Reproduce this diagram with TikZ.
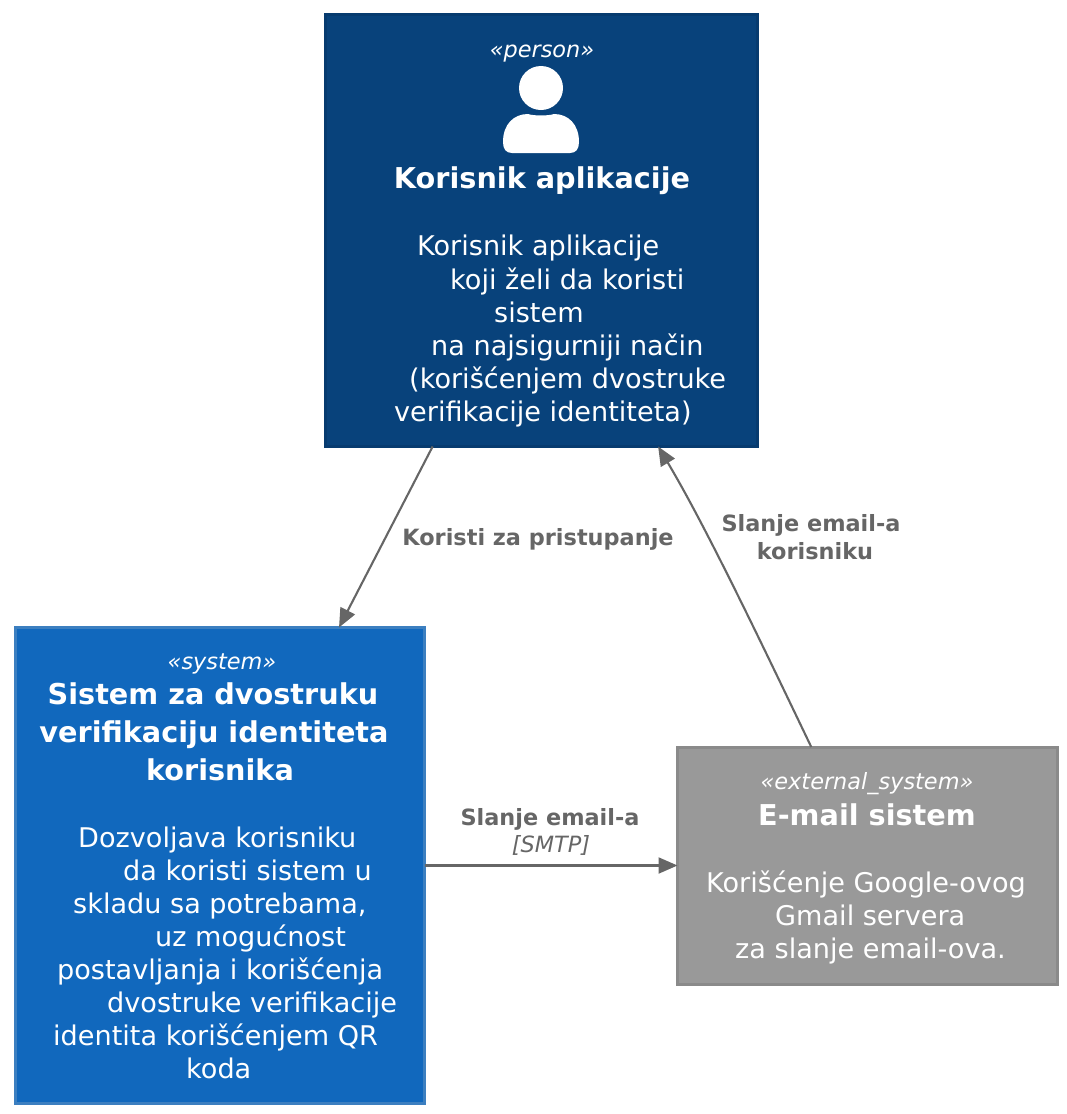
\documentclass[tikz,border=0pt]{standalone}
\usepackage{fontspec}
\setmainfont{DejaVu Sans}
\usetikzlibrary{arrows.meta,calc}
\definecolor{personfill}{HTML}{08427B}
\definecolor{personline}{HTML}{073B6F}
\definecolor{systemfill}{HTML}{1168BD}
\definecolor{systemline}{HTML}{3C7FC0}
\definecolor{extfill}{HTML}{999999}
\definecolor{extline}{HTML}{8A8A8A}
\definecolor{linkcol}{HTML}{666666}
\tikzset{
  box/.style={draw, line width=3, inner sep=0, outer sep=0},
  stereo/.style={inner sep=0, anchor=base, text=white, font=\fontsize{22.4}{26}\selectfont\itshape},
  title/.style={inner sep=0, anchor=base, text=white, font=\fontsize{28.7}{34}\selectfont\bfseries},
  descr/.style={inner sep=0, anchor=base west, text=white, font=\fontsize{27.1}{32}\selectfont},
  linklabel/.style={inner sep=0, anchor=base, text=linkcol, font=\fontsize{22.4}{27}\selectfont\bfseries},
  linktech/.style={inner sep=0, anchor=base, text=linkcol, font=\fontsize{22.4}{26}\selectfont\itshape},
  link/.style={draw=linkcol, line width=2.1, -{Triangle[length=19,width=16]}}
}
\begin{document}
\begin{tikzpicture}[x=1pt, y=-1pt]
    \useasboundingbox (0,0) rectangle (1067,1114);
    % boxes
    \node [box, fill=personfill, draw=personline, minimum width=432, minimum height=432] (person) at (541.5,230.5) {};
    \node [box, fill=systemfill, draw=systemline, minimum width=409, minimum height=476] (system) at (220,865.5) {};
    \node [box, fill=extfill, draw=extline, minimum width=380, minimum height=237] (email) at (867.5,865.5) {};
    % person icon
    \fill [white] (541,88) circle (22);
    \fill [white] (503,142) .. controls (503,124) and (514,114) .. (528,114)
        .. controls (534,116) and (548,116) .. (554,114)
        .. controls (568,114) and (579,124) .. (579,142)
        .. controls (579,149) and (576,153) .. (570,153) -- (512,153)
        .. controls (506,153) and (503,149) .. (503,142) -- cycle;
    % person text
    \node [stereo] (personstereo) at (542,57) {«person»};
    \node [title] (persontitle) at (542,188) {Korisnik aplikacije};
    \node [descr] (persona) at (417,255) {Korisnik aplikacije};
    \node [descr] (personb) at (450,289) {koji želi da koristi};
    \node [descr] (personc) at (494,322) {sistem};
    \node [descr] (persond) at (431,355) {na najsigurniji način};
    \node [descr] (persone) at (409,388) {(korišćenjem dvostruke};
    \node [descr] (personf) at (394,421) {verifikacije identiteta)};
    % system text
    \node [stereo] (systemstereo) at (222,669) {«system»};
    \node [title] (systemtitlea) at (213,704) {Sistem za dvostruku};
    \node [title] (systemtitleb) at (214,742) {verifikaciju identiteta};
    \node [title] (systemtitlec) at (220,780) {korisnika};
    \node [descr] (systema) at (78,847) {Dozvoljava korisniku};
    \node [descr] (systemb) at (123,880) {da koristi sistem u};
    \node [descr] (systemc) at (73,913) {skladu sa potrebama,};
    \node [descr] (systemd) at (155,946) {uz mogućnost};
    \node [descr] (systeme) at (57,979) {postavljanja i korišćenja};
    \node [descr] (systemf) at (107,1012) {dvostruke verifikacije};
    \node [descr] (systemg) at (53,1045) {identita korišćenjem QR};
    \node [descr] (systemh) at (186,1078) {koda};
    % external system text
    \node [stereo] (emailstereo) at (867,789) {«external\_system»};
    \node [title] (emailtitle) at (867,825) {E-mail sistem};
    \node [descr] (emaila) at (706,892) {Korišćenje Google-ovog};
    \node [descr] (emailb) at (775,925) {Gmail servera};
    \node [descr] (emailc) at (735,958) {za slanje email-ova.};
    % connectors
    \draw [link] ($(person.south west)!0.248!(person.south east)$) -- ($(system.north west)!0.791!(system.north east)$);
    \draw [link] (system.east) -- (email.west);
    \draw [link] ($(email.north west)!0.352!(email.north east)$) .. controls (760,640) and (705,525) .. ($(person.south west)!0.77!(person.south east)$);
    % connector labels
    \node [linklabel] (usea) at (538,545) {Koristi za pristupanje};
    \node [linklabel] (senda) at (811,531) {Slanje email-a};
    \node [linklabel] (sendb) at (815,559) {korisniku};
    \node [linklabel] (smtpa) at (550,825) {Slanje email-a};
    \node [linktech] (smtpb) at (551,852) {[SMTP]};
\end{tikzpicture}
\end{document}
